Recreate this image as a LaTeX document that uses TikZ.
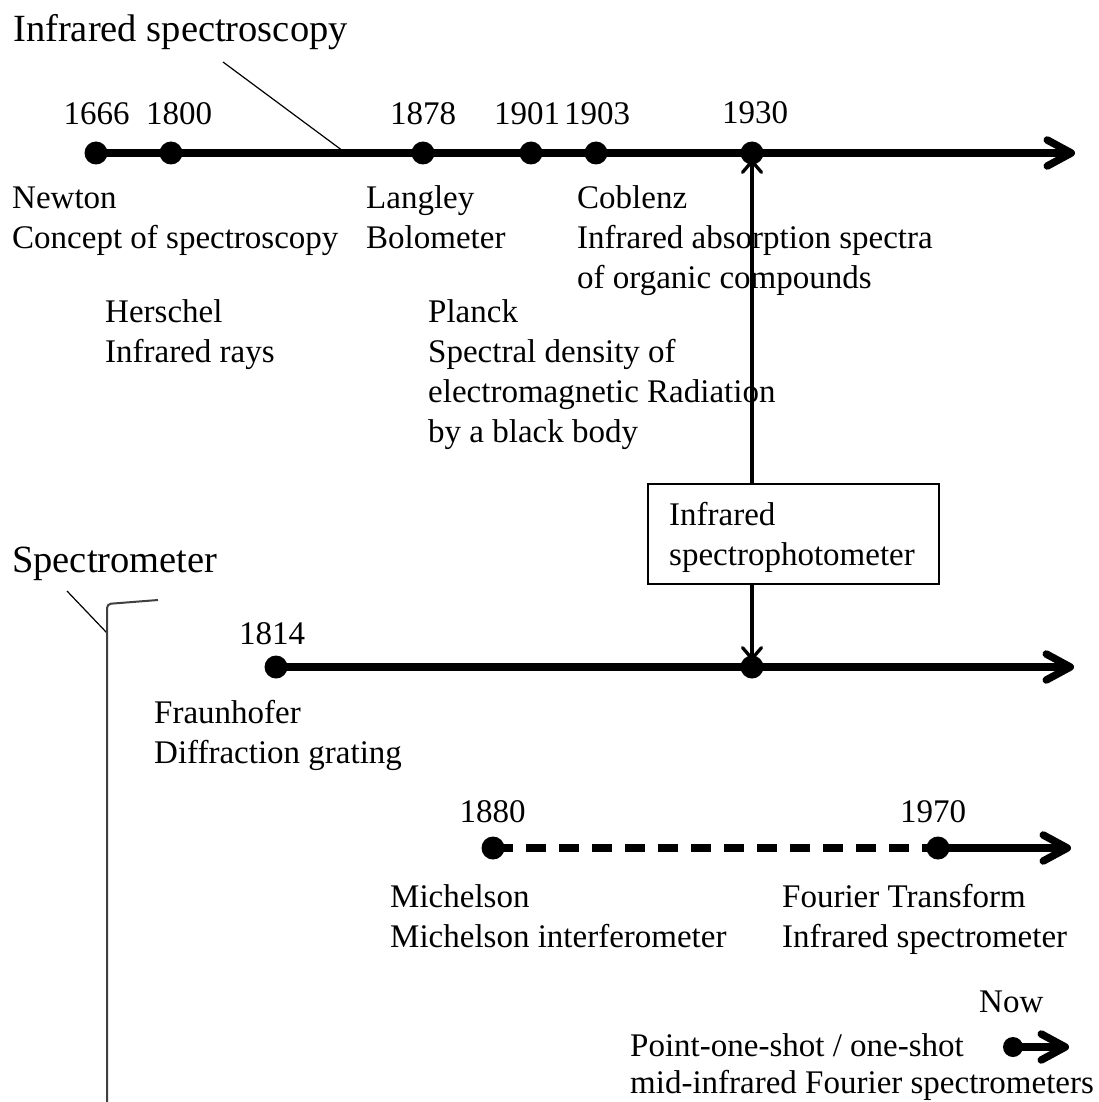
\documentclass[tikz,border=0pt]{standalone}
\usepackage{fontspec}
\setmainfont{Liberation Serif}
\usetikzlibrary{arrows.meta}
\begin{document}
\begin{tikzpicture}[x=1pt,y=-1pt,
  dot/.style={circle, fill=black, inner sep=0pt, minimum size=23pt},
  smalldot/.style={circle, fill=black, inner sep=0pt, minimum size=20pt},
  tline/.style={line width=7.5pt, -{Straight Barb[length=24pt,width=26pt,round]}},
  dline/.style={line width=7.5pt, dash pattern=on 20pt off 13pt},
  conn/.style={line width=3.3pt, -{Straight Barb[length=11pt,width=19pt,round]}, shorten >=-5pt},
  callout/.style={line width=1.2pt},
  lbl/.style={anchor=base west, inner sep=0pt, align=left, font=\fontsize{33}{40}\selectfont},
  yr/.style={anchor=base, inner sep=0pt, font=\fontsize{33}{40}\selectfont},
  ttl/.style={anchor=base west, inner sep=0pt, font=\fontsize{38.5}{46}\selectfont},
  boxnode/.style={draw, line width=1.5pt, minimum width=291pt, minimum height=100pt, inner sep=0pt, align=left, text depth=0pt, font=\fontsize{33}{39}\selectfont}
]
\useasboundingbox (0,0) rectangle (1099,1102);

% titles
\node[ttl] (tIR) at (13,42) {Infrared spectroscopy};
\node[ttl] (tSP) at (12,572) {Spectrometer};
\coordinate (cIRa) at (223,62);
\coordinate (cIRb) at (343,151);
\draw[callout] (cIRa) -- (cIRb);
\coordinate (cSPa) at (67,591);
\coordinate (cSPb) at (107,633);
\draw[callout] (cSPa) -- (cSPb);
\coordinate (brA) at (158,600);
\coordinate (brB) at (107,604);
\coordinate (brC) at (107,1110);
\draw[line width=2pt, black!75, rounded corners=4pt] (brA) -- (brB) -- (brC);

% top timeline
\node[dot] (d1666) at (96,153) {};
\node[dot] (d1800) at (171,153) {};
\node[dot] (d1878) at (423,153) {};
\node[dot] (d1901) at (531,153) {};
\node[dot] (d1903) at (596,153) {};
\node[dot] (d1930) at (752,153) {};
\coordinate (e1) at (1075,153);
\draw[tline] (d1666.center) -- (e1);
\node[yr] (y1666) at (96.5,125) {1666};
\node[yr] (y1800) at (179,125) {1800};
\node[yr] (y1878) at (423,125) {1878};
\node[yr] (y1901) at (527,125) {1901};
\node[yr] (y1903) at (597,125) {1903};
\node[yr] (y1930) at (755,124) {1930};

% labels (anchor = baseline of the last line)
\node[lbl] (lNewton) at (12,248) {Newton\\Concept of spectroscopy};
\node[lbl] (lHerschel) at (105,362) {Herschel\\Infrared rays};
\node[lbl] (lLangley) at (366,248) {Langley\\Bolometer};
\node[lbl] (lPlanck) at (428,442) {Planck\\Spectral density of\\electromagnetic Radiation\\by a black body};
\node[lbl] (lCoblenz) at (577,288) {Coblenz\\Infrared absorption spectra\\of organic compounds};

% box
\node[boxnode] (box) at (793.5,534) {};
\node[lbl] (boxtext) at (669,565) {Infrared\\spectrophotometer};

% second timeline
\node[dot] (d1814) at (276,667) {};
\node[dot] (d1930b) at (752,667) {};
\coordinate (e2) at (1074,667);
\draw[tline] (d1814.center) -- (e2);
\node[yr] (y1814) at (272,644) {1814};
\node[lbl] (lFraun) at (154,763) {Fraunhofer\\Diffraction grating};

\draw[conn] (box.north -| d1930) -- (d1930);
\draw[conn] (box.south -| d1930b) -- (d1930b);

% third timeline
\node[dot] (d1880) at (493,848) {};
\node[dot] (d1970) at (938,848) {};
\coordinate (e3) at (1071,848);
\draw[dline] (d1880.center) -- (d1970.center);
\draw[tline] (d1970.center) -- (e3);
\node[yr] (y1880) at (492.5,822) {1880};
\node[yr] (y1970) at (933,822) {1970};
\node[lbl] (lMich) at (390,947) {Michelson\\Michelson interferometer};
\node[lbl] (lFT) at (782,947) {Fourier Transform\\Infrared spectrometer};

% now
\node[smalldot] (dNow) at (1013,1047) {};
\coordinate (e4) at (1069,1047);
\draw[tline] (dNow.center) -- (e4);
\node[lbl] (lNow) at (979,1012) {Now};
\node[lbl, font=\fontsize{33}{37}\selectfont] (lPoint) at (630,1093) {Point-one-shot / one-shot\\mid-infrared Fourier spectrometers};
\end{tikzpicture}
\end{document}
